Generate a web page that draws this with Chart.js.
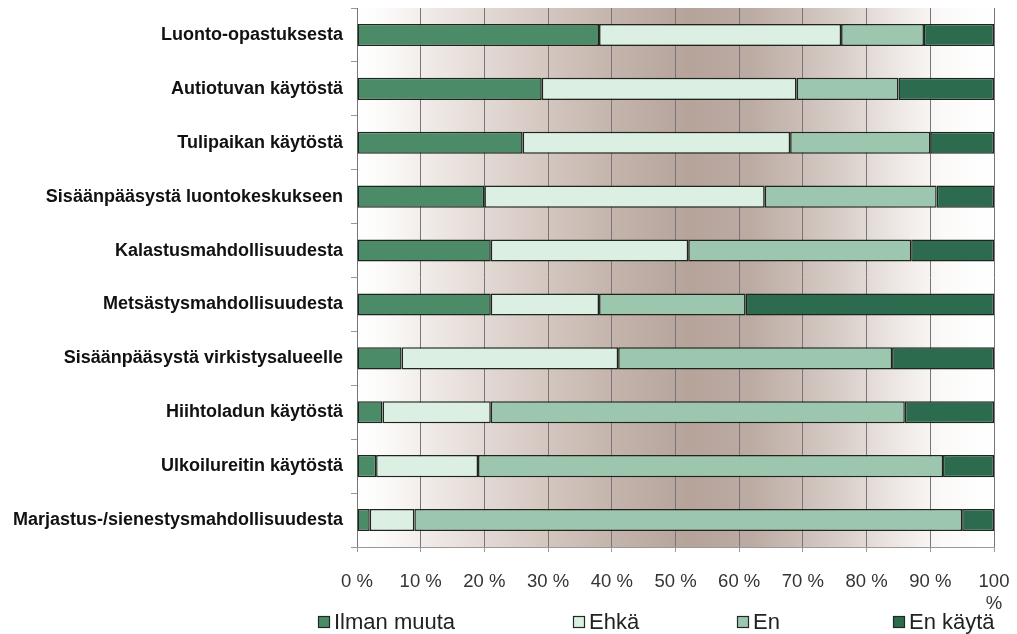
<!DOCTYPE html>
<html>
<head>
<meta charset="utf-8">
<script src="https://cdn.jsdelivr.net/npm/chart.js@4/dist/chart.umd.min.js"></script>
<style>
html,body{margin:0;padding:0;background:#fff;}
#wrap{width:1017px;height:634px;position:relative;}
</style>
</head>
<body>
<div id="wrap"><canvas id="c" width="1017" height="634"></canvas></div>
<script>
const categories = [
  "Luonto-opastuksesta",
  "Autiotuvan käytöstä",
  "Tulipaikan käytöstä",
  "Sisäänpääsystä luontokeskukseen",
  "Kalastusmahdollisuudesta",
  "Metsästysmahdollisuudesta",
  "Sisäänpääsystä virkistysalueelle",
  "Hiihtoladun käytöstä",
  "Ulkoilureitin käytöstä",
  "Marjastus-/sienestysmahdollisuudesta"
];
const ilmanMuuta = [38, 29, 26, 20, 21, 21, 7, 4, 3, 2];
const ehka       = [38, 40, 42, 44, 31, 17, 34, 17, 16, 7];
const en         = [13, 16, 22, 27, 35, 23, 43, 65, 73, 86];
const enKayta    = [11, 15, 10, 9, 13, 39, 16, 14, 8, 5];
const seriesNames = ["Ilman muuta", "Ehkä", "En", "En käytä"];
const xTicks = [0, 10, 20, 30, 40, 50, 60, 70, 80, 90, 100];

const colors = ["#4b8b67", "#dcefe3", "#9dc6ae", "#2c6b4d"];
const legendX = [318, 573, 737, 893];

const bgPlugin = {
  id: 'bg',
  beforeDraw(chart) {
    const {ctx, chartArea: a} = chart;
    const g = ctx.createLinearGradient(a.left, 0, a.right, 0);
    g.addColorStop(0, '#ffffff');
    g.addColorStop(0.04, '#fcfbfa');
    g.addColorStop(0.12, '#efe9e6');
    g.addColorStop(0.25, '#dbcfc9');
    g.addColorStop(0.4, '#c4b4ac');
    g.addColorStop(0.52, '#b6a49b');
    g.addColorStop(0.62, '#bcaba3');
    g.addColorStop(0.75, '#d6cbc5');
    g.addColorStop(0.85, '#eee8e5');
    g.addColorStop(0.92, '#fbfaf9');
    g.addColorStop(1, '#ffffff');
    ctx.save();
    ctx.fillStyle = g;
    ctx.fillRect(a.left, a.top, a.right - a.left, a.bottom - a.top);
    ctx.restore();
  }
};

const legendPlugin = {
  id: 'customLegend',
  afterDraw(chart) {
    const ctx = chart.ctx;
    ctx.save();
    ctx.font = '22px "Liberation Sans", Arial, sans-serif';
    ctx.textBaseline = 'middle';
    ctx.textAlign = 'left';
    chart.data.datasets.forEach((ds, i) => {
      const x = legendX[i], y = 622;
      ctx.fillStyle = ds.backgroundColor;
      ctx.fillRect(x, y - 6, 12, 12);
      ctx.strokeStyle = '#1e2a22';
      ctx.lineWidth = 1.2;
      ctx.strokeRect(x + 0.5, y - 5.5, 11, 11);
      ctx.fillStyle = '#222';
      ctx.fillText(ds.label, x + 16, y + 1);
    });
    ctx.restore();
  }
};

function noPad(scale) {
  scale.paddingTop = 0; scale.paddingBottom = 0;
  scale.paddingLeft = 0; scale.paddingRight = 0;
}

const seriesData = [ilmanMuuta, ehka, en, enKayta];
new Chart(document.getElementById('c'), {
  type: 'bar',
  data: {
    labels: categories,
    datasets: seriesData.map((d, i) => ({
      label: seriesNames[i],
      data: d,
      backgroundColor: colors[i],
      borderColor: '#1c261f',
      borderWidth: 1.5,
      borderSkipped: false,
      barPercentage: 0.41,
      categoryPercentage: 1
    }))
  },
  options: {
    indexAxis: 'y',
    responsive: false,
    animation: false,
    layout: { padding: { top: 8, right: 23, left: 0, bottom: 0 } },
    plugins: { legend: { display: false }, tooltip: { enabled: false } },
    scales: {
      x: {
        stacked: true,
        min: 0, max: 100,
        afterBuildTicks(scale) { scale.ticks = xTicks.map(v => ({ value: v })); },
        afterFit(scale) { scale.height = 87; noPad(scale); },
        grid: { color: '#7a7478', lineWidth: 1, tickLength: 5, drawTicks: true, tickColor: '#999' },
        border: { display: true, color: '#999', width: 1 },
        ticks: {
          padding: 19,
          color: '#333',
          font: { family: '"Liberation Sans", Arial, sans-serif', size: 18.5 },
          maxRotation: 0,
          autoSkip: false,
          callback: (v) => v === 100 ? ['100', '%'] : v + ' %'
        }
      },
      y: {
        stacked: true,
        afterFit(scale) { scale.width = 357; noPad(scale); },
        grid: { drawOnChartArea: false, drawTicks: true, tickLength: 6, tickColor: '#999', offset: true },
        border: { display: false },
        ticks: {
          padding: 8,
          color: '#111',
          font: { family: '"Liberation Sans", Arial, sans-serif', size: 18, weight: 'bold' }
        }
      }
    }
  },
  plugins: [bgPlugin, legendPlugin]
});
</script>
</body>
</html>
